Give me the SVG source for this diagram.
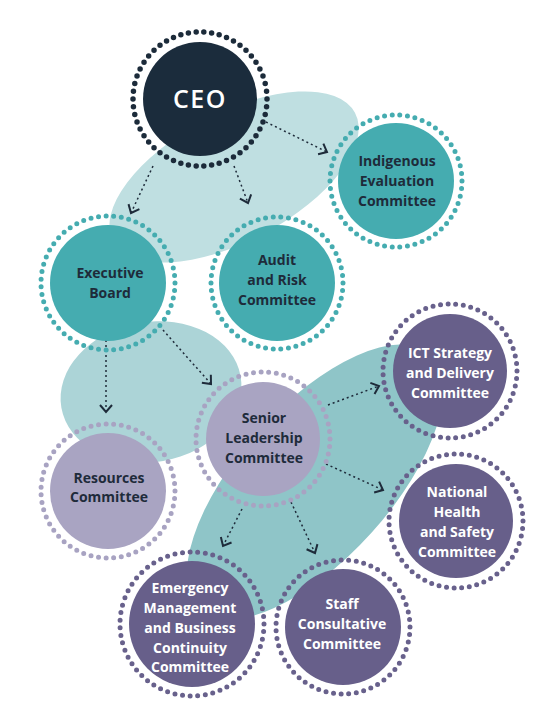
<svg xmlns="http://www.w3.org/2000/svg" width="553" height="724" viewBox="0 0 553 724">
<defs>
<style>
.t{font-family:"Open Sans","Liberation Sans",sans-serif;font-weight:700;font-size:14px;text-anchor:middle}
.dk{fill:#1e2b3a}
.wh{fill:#ffffff}
.ring{fill:none;stroke-width:5;stroke-linecap:round;stroke-dasharray:0 1}
.conn{fill:none;stroke:#1e2b3a;stroke-width:1.5;stroke-dasharray:2 3}
</style>
<marker id="chev" viewBox="-10 -7 12 14" markerWidth="12" markerHeight="14" refX="0" refY="0" orient="auto" markerUnits="userSpaceOnUse">
<path d="M-7,-6 L0,0 L-7,6" fill="none" stroke="#1e2b3a" stroke-width="2"/>
</marker>
</defs>
<rect width="553" height="724" fill="#ffffff"/>
<g id="blobs">
<ellipse cx="234" cy="177" rx="137" ry="64" transform="rotate(-28 234 177)" fill="#bfdfe1"/>
<ellipse cx="151" cy="392" rx="91" ry="70" transform="rotate(-10 151 392)" fill="#acd4d7"/>
<ellipse cx="315" cy="482" rx="172" ry="76" transform="rotate(-48 315 482)" fill="#8fc5c8"/>
</g>
<g id="connectors">
<line class="conn" x1="153" y1="166" x2="131" y2="213" marker-end="url(#chev)"/>
<line class="conn" x1="234" y1="166" x2="248" y2="203" marker-end="url(#chev)"/>
<line class="conn" x1="266" y1="122" x2="327" y2="152" marker-end="url(#chev)"/>
<line class="conn" x1="106" y1="340" x2="106" y2="412" marker-end="url(#chev)"/>
<line class="conn" x1="163" y1="330" x2="211" y2="384" marker-end="url(#chev)"/>
<line class="conn" x1="328" y1="405" x2="379" y2="386" marker-end="url(#chev)"/>
<line class="conn" x1="326" y1="464" x2="383" y2="490" marker-end="url(#chev)"/>
<line class="conn" x1="242" y1="509" x2="223" y2="546" marker-end="url(#chev)"/>
<line class="conn" x1="291" y1="502" x2="315" y2="553" marker-end="url(#chev)"/>
</g>
<g id="ceo">
<circle cx="200" cy="99" r="67" class="ring" stroke="#1c2b3a" pathLength="54" style="stroke-width:5.5"/>
<circle cx="200" cy="99" r="57" fill="#1b2c3c"/>
<text x="200" y="108" class="t wh" style="font-size:25px;font-weight:600;letter-spacing:1.5px">CEO</text>
</g>
<g id="indigenous">
<circle cx="396" cy="181" r="66" class="ring" stroke="#45acb0" pathLength="54"/>
<circle cx="396" cy="181" r="58" fill="#45acb0"/>
<text class="t dk"><tspan x="397" y="166">Indigenous</tspan><tspan x="397" y="186">Evaluation</tspan><tspan x="397" y="206">Committee</tspan></text>
</g>
<g id="executive">
<circle cx="108" cy="283" r="67" class="ring" stroke="#45acb0" pathLength="55"/>
<circle cx="108" cy="283" r="58" fill="#45acb0"/>
<text class="t dk"><tspan x="110" y="278">Executive</tspan><tspan x="110" y="298">Board</tspan></text>
</g>
<g id="audit">
<circle cx="277" cy="283" r="66" class="ring" stroke="#45acb0" pathLength="54"/>
<circle cx="277" cy="283" r="58" fill="#45acb0"/>
<text class="t dk"><tspan x="277" y="265">Audit</tspan><tspan x="277" y="285">and Risk</tspan><tspan x="277" y="305">Committee</tspan></text>
</g>
<g id="senior">
<circle cx="263" cy="439" r="67" class="ring" stroke="#a8a3c2" pathLength="55"/>
<circle cx="263" cy="439" r="57" fill="#a9a4c2"/>
<text class="t dk"><tspan x="264" y="423">Senior</tspan><tspan x="264" y="443">Leadership</tspan><tspan x="264" y="463">Committee</tspan></text>
</g>
<g id="resources">
<circle cx="108" cy="491" r="67" class="ring" stroke="#a8a3c2" pathLength="55"/>
<circle cx="108" cy="491" r="58" fill="#a9a4c2"/>
<text class="t dk"><tspan x="109" y="483">Resources</tspan><tspan x="109" y="502">Committee</tspan></text>
</g>
<g id="ict">
<circle cx="450" cy="371" r="67" class="ring" stroke="#68618c" pathLength="55"/>
<circle cx="450" cy="371" r="57" fill="#675f8a"/>
<text class="t wh"><tspan x="450" y="358">ICT Strategy</tspan><tspan x="450" y="378">and Delivery</tspan><tspan x="450" y="398">Committee</tspan></text>
</g>
<g id="national">
<circle cx="456" cy="521" r="67" class="ring" stroke="#68618c" pathLength="55"/>
<circle cx="456" cy="521" r="57" fill="#675f8a"/>
<text class="t wh"><tspan x="457" y="497">National</tspan><tspan x="457" y="517">Health</tspan><tspan x="457" y="537">and Safety</tspan><tspan x="457" y="557">Committee</tspan></text>
</g>
<g id="emergency">
<circle cx="192" cy="624" r="72" class="ring" stroke="#68618c" pathLength="59"/>
<circle cx="192" cy="624" r="63" fill="#675f8a"/>
<text class="t wh"><tspan x="190" y="593">Emergency</tspan><tspan x="190" y="613">Management</tspan><tspan x="190" y="633">and Business</tspan><tspan x="190" y="653">Continuity</tspan><tspan x="190" y="672">Committee</tspan></text>
</g>
<g id="staff">
<circle cx="343" cy="627" r="67" class="ring" stroke="#68618c" pathLength="55"/>
<circle cx="343" cy="627" r="58" fill="#675f8a"/>
<text class="t wh"><tspan x="342" y="609">Staff</tspan><tspan x="342" y="629">Consultative</tspan><tspan x="342" y="649">Committee</tspan></text>
</g>
</svg>
